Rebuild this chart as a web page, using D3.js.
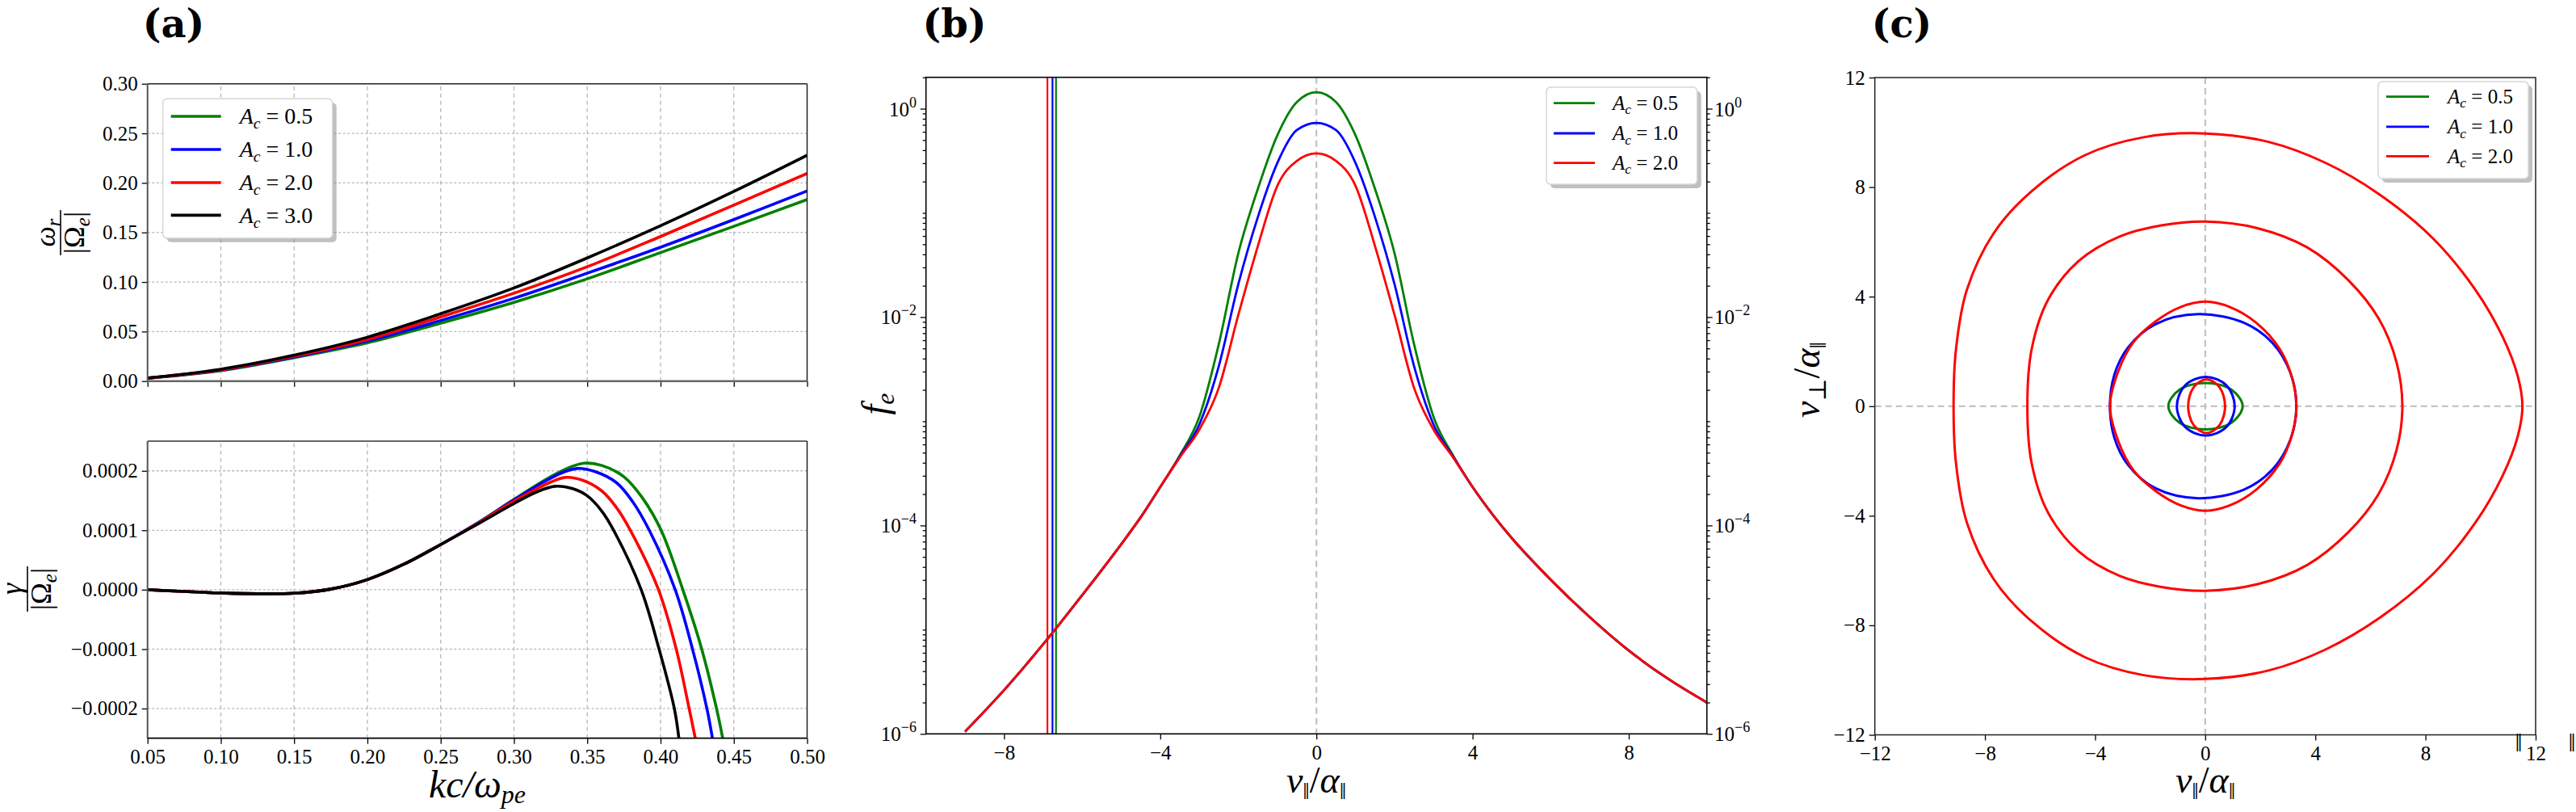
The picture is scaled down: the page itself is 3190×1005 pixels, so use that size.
<!DOCTYPE html>
<html>
<head>
<meta charset="utf-8">
<script src="https://cdn.jsdelivr.net/npm/d3@7"></script>
<style>
body { margin: 0; background: #fff; }
svg text { font-family: "Liberation Serif", "DejaVu Serif", serif; fill: #000; }
</style>
</head>
<body>
<svg id="fig" width="3190" height="1005"></svg>
<script>
// ---------- data: panel (a) top, omega_r / |Omega_e| ----------
var kGrid = [0.05, 0.10, 0.15, 0.20, 0.25, 0.30, 0.35, 0.40, 0.45, 0.50];
var wrA05 = [0.0028, 0.0106, 0.0236, 0.0386, 0.0585, 0.0795, 0.1032, 0.1297, 0.1562, 0.1832];
var wrA10 = [0.0029, 0.0110, 0.0244, 0.0405, 0.0612, 0.0836, 0.1089, 0.1351, 0.1630, 0.1919];
var wrA20 = [0.0030, 0.0114, 0.0252, 0.0420, 0.0648, 0.0887, 0.1154, 0.1459, 0.1776, 0.2095];
var wrA30 = [0.0031, 0.0120, 0.0262, 0.0443, 0.0680, 0.0940, 0.1243, 0.1568, 0.1914, 0.2279];

// ---------- data: panel (a) bottom, gamma / |Omega_e| ----------
var kGamA05 = [0.05, 0.075, 0.10, 0.125, 0.15, 0.175, 0.20, 0.225, 0.25, 0.275, 0.30, 0.325, 0.338, 0.348, 0.36, 0.375, 0.3875, 0.4004, 0.4152, 0.4281, 0.4382, 0.4424];
var gamA05  = [0, -3.0e-6, -5.5e-6, -6.8e-6, -6.0e-6, 1.0e-6, 1.7e-5, 4.3e-5, 7.6e-5, 1.12e-4, 1.52e-4, 1.90e-4, 2.06e-4, 2.13e-4, 2.09e-4, 1.90e-4, 1.55e-4, 1.0e-4, 0, -1.0e-4, -2.0e-4, -2.5e-4];
var kGamA10 = [0.05, 0.075, 0.10, 0.125, 0.15, 0.175, 0.20, 0.225, 0.25, 0.275, 0.30, 0.32, 0.333, 0.343, 0.355, 0.37, 0.381, 0.3923, 0.41, 0.4218, 0.4316, 0.4354];
var gamA10  = [0, -3.0e-6, -5.5e-6, -6.8e-6, -6.0e-6, 1.0e-6, 1.7e-5, 4.3e-5, 7.6e-5, 1.12e-4, 1.51e-4, 1.81e-4, 1.97e-4, 2.04e-4, 1.99e-4, 1.80e-4, 1.48e-4, 1.0e-4, 0, -1.0e-4, -2.0e-4, -2.5e-4];
var kGamA20 = [0.05, 0.075, 0.10, 0.125, 0.15, 0.175, 0.20, 0.225, 0.25, 0.275, 0.30, 0.315, 0.325, 0.335, 0.347, 0.36, 0.37, 0.3794, 0.3986, 0.4107, 0.4195, 0.4237];
var gamA20  = [0, -3.0e-6, -5.5e-6, -6.8e-6, -6.0e-6, 1.0e-6, 1.7e-5, 4.3e-5, 7.6e-5, 1.11e-4, 1.49e-4, 1.69e-4, 1.81e-4, 1.89e-4, 1.84e-4, 1.66e-4, 1.38e-4, 1.0e-4, 0, -1.0e-4, -2.0e-4, -2.5e-4];
var kGamA30 = [0.05, 0.075, 0.10, 0.125, 0.15, 0.175, 0.20, 0.225, 0.25, 0.275, 0.30, 0.315, 0.328, 0.34, 0.35, 0.36, 0.368, 0.3868, 0.399, 0.4094, 0.4125];
var gamA30  = [0, -3.0e-6, -5.5e-6, -6.8e-6, -6.0e-6, 1.0e-6, 1.7e-5, 4.3e-5, 7.6e-5, 1.10e-4, 1.45e-4, 1.64e-4, 1.74e-4, 1.70e-4, 1.58e-4, 1.32e-4, 1.0e-4, 0, -1.0e-4, -2.0e-4, -2.5e-4];

// ---------- data: panel (b), f_e vs v_par ----------
var vGrid = [-9, -8, -7, -6, -5, -4.5, -4, -3.5, -3, -2.5, -2, -1.5, -1, -0.5, 0, 0.5, 1, 1.5, 2, 2.5, 3, 3.5, 4, 4.5, 5, 6, 7, 8, 9, 10];
var fA05 = [1.05e-6, 2.63e-6, 7.24e-6, 2.14e-5, 6.6e-5, 1.20e-4, 2.34e-4, 4.7e-4, 1.1e-3, 5.5e-3, 4.11e-2, 0.170, 0.556, 1.16, 1.44, 1.16, 0.556, 0.170, 4.11e-2, 5.5e-3, 1.1e-3, 4.7e-4, 2.34e-4, 1.29e-4, 7.6e-5, 3.02e-5, 1.32e-5, 6.3e-6, 3.39e-6, 2.0e-6];
var fA10 = [1.05e-6, 2.63e-6, 7.24e-6, 2.14e-5, 6.6e-5, 1.20e-4, 2.34e-4, 4.6e-4, 9.3e-4, 3.39e-3, 2.07e-2, 9.12e-2, 0.302, 0.624, 0.731, 0.624, 0.302, 9.12e-2, 2.07e-2, 3.39e-3, 9.3e-4, 4.6e-4, 2.34e-4, 1.29e-4, 7.6e-5, 3.02e-5, 1.32e-5, 6.3e-6, 3.39e-6, 2.0e-6];
var fA20 = [1.05e-6, 2.63e-6, 7.24e-6, 2.14e-5, 6.6e-5, 1.20e-4, 2.34e-4, 4.5e-4, 8.3e-4, 2.1e-3, 1.05e-2, 4.8e-2, 0.182, 0.316, 0.372, 0.316, 0.182, 4.8e-2, 1.05e-2, 2.1e-3, 8.3e-4, 4.5e-4, 2.34e-4, 1.29e-4, 7.6e-5, 3.02e-5, 1.32e-5, 6.3e-6, 3.39e-6, 2.0e-6];
var vCut = [-6.67, -6.76, -6.89];   // green, blue, red vertical lines

// ---------- data: panel (c), contours (v_par, v_perp) ----------
var ringOuter = [[11.52,0],[11.35,1.1],[10.8,2.54],[9.82,4.24],[8.27,6.13],[6.32,7.74],[4.38,8.88],[2.3,9.65],[0,9.96],[-2.24,9.82],[-4.38,9.16],[-6.32,7.84],[-7.68,6.32],[-8.66,4.24],[-9.05,2.1],[-9.14,0],
  [-9.05,-2.1],[-8.66,-4.24],[-7.68,-6.32],[-6.32,-7.84],[-4.38,-9.16],[-2.24,-9.82],[0,-9.96],[2.3,-9.65],[4.38,-8.88],[6.32,-7.74],[8.27,-6.13],[9.82,-4.24],[10.8,-2.54],[11.35,-1.1]];
var ringSecond = [[7.16,0],[6.95,1.6],[6.3,3.2],[5.2,4.6],[3.7,5.8],[1.9,6.5],[0,6.74],[-1.6,6.6],[-3.1,6.2],[-4.6,5.3],[-5.7,3.9],[-6.3,2.1],[-6.46,0],
  [-6.3,-2.1],[-5.7,-3.9],[-4.6,-5.3],[-3.1,-6.2],[-1.6,-6.6],[0,-6.74],[1.9,-6.5],[3.7,-5.8],[5.2,-4.6],[6.3,-3.2],[6.95,-1.6]];
var ringThirdRed = [[3.31,0],[3.15,1.05],[2.7,2.1],[1.85,3.05],[0.9,3.62],[0,3.82],[-0.9,3.62],[-1.8,3.1],[-2.6,2.35],[-3.15,1.3],[-3.46,0],
  [-3.15,-1.3],[-2.6,-2.35],[-1.8,-3.1],[-0.9,-3.62],[0,-3.82],[0.9,-3.62],[1.85,-3.05],[2.7,-2.1],[3.15,-1.05]];
var ringThirdBlue = [[3.31,0],[3.1,1.2],[2.45,2.3],[1.4,3.05],[-0.25,3.36],[-1.8,3.0],[-2.8,2.15],[-3.3,1.15],[-3.46,0],
  [-3.3,-1.15],[-2.8,-2.15],[-1.8,-3.0],[-0.25,-3.36],[1.4,-3.05],[2.45,-2.3],[3.1,-1.2]];
var coreGreen = [[1.36,0],[0.96,0.6],[0.01,0.85],[-0.94,0.6],[-1.34,0],[-0.94,-0.6],[0.01,-0.85],[0.96,-0.6]];
var coreBlue = [[1.07,0],[0.77,0.76],[0.02,1.07],[-0.73,0.76],[-1.03,0],[-0.73,-0.76],[0.02,-1.07],[0.77,-0.76]];
var coreRed = [[0.72,0],[0.52,0.69],[0.05,0.98],[-0.42,0.69],[-0.62,0],[-0.42,-0.69],[0.05,-0.98],[0.52,-0.69]];

var labelsA = ["0.5", "1.0", "2.0", "3.0"];
var colors = ["#008000", "#0000ff", "#ff0000", "#000000"];

// ---------- layout ----------
var svg = d3.select("#fig");
var FS = 25;

var xa = d3.scaleLinear().domain([0.05, 0.5]).range([182.7, 999.5]);
var ya1 = d3.scaleLinear().domain([0, 0.3]).range([471.7, 103.7]);
var ya2 = d3.scaleLinear().domain([-0.00025, 0.00025]).range([913.7, 546]);
var xb = d3.scaleLinear().domain([-10, 10]).range([1146.7, 2113.7]);
var yb = d3.scaleLog().domain([1e-6, 2]).range([908.3, 95.7]);
var xc = d3.scaleLinear().domain([-12, 12]).range([2321.7, 3140]);
var yc = d3.scaleLinear().domain([-12, 12]).range([909.5, 96]);

var defs = svg.append("defs");
function clipFor(id, x, y) {
  defs.append("clipPath").attr("id", id).append("rect")
    .attr("x", x.range()[0]).attr("y", y.range()[1])
    .attr("width", x.range()[1] - x.range()[0]).attr("height", y.range()[0] - y.range()[1]);
}
clipFor("ca1", xa, ya1); clipFor("ca2", xa, ya2); clipFor("cb", xb, yb); clipFor("cc", xc, yc);

function styleAxis(g) {
  g.select(".domain").remove();
  g.attr("font-size", FS).attr("font-family", null);
  g.selectAll(".tick line").attr("stroke", "#000").attr("stroke-width", 1.3);
}

function grid(x, y, xt, yt) {
  var g = svg.append("g");
  g.selectAll(".gx").data(xt).enter().append("line")
    .attr("x1", function(d) { return x(d); }).attr("x2", function(d) { return x(d); })
    .attr("y1", y.range()[0]).attr("y2", y.range()[1])
    .attr("stroke", "#b8b8b8").attr("stroke-width", 1.3).attr("stroke-dasharray", "5,4");
  g.selectAll(".gy").data(yt).enter().append("line")
    .attr("y1", function(d) { return y(d); }).attr("y2", function(d) { return y(d); })
    .attr("x1", x.range()[0]).attr("x2", x.range()[1])
    .attr("stroke", "#b8b8b8").attr("stroke-width", 1.3).attr("stroke-dasharray", "3,2.5");
}

function spine(x1, y1, x2, y2, col, w) {
  svg.append("line").attr("x1", x1).attr("y1", y1).attr("x2", x2).attr("y2", y2)
    .attr("stroke", col).attr("stroke-width", w);
}

function legendText(sel, x, y, fs, val) {
  var t = sel.append("text").attr("x", x).attr("y", y).attr("font-size", fs);
  t.append("tspan").attr("font-style", "italic").text("A");
  t.append("tspan").attr("font-style", "italic").attr("font-size", fs * 0.7).attr("dy", fs * 0.22).text("c");
  t.append("tspan").attr("dy", -fs * 0.22).text(" = " + val);
}

function legend(box, rows, line, textX, fs, n, lw) {
  var g = svg.append("g");
  g.append("rect").attr("x", box[0] + 5).attr("y", box[1] + 5).attr("width", box[2] - box[0]).attr("height", box[3] - box[1])
    .attr("rx", 5).attr("fill", "#8c8c8c").attr("opacity", 0.55);
  g.append("rect").attr("x", box[0]).attr("y", box[1]).attr("width", box[2] - box[0]).attr("height", box[3] - box[1])
    .attr("rx", 5).attr("fill", "#fff").attr("stroke", "#d6d6d6").attr("stroke-width", 1.5);
  for (var i = 0; i < n; i++) {
    g.append("line").attr("x1", line[0]).attr("x2", line[1]).attr("y1", rows[i]).attr("y2", rows[i])
      .attr("stroke", colors[i]).attr("stroke-width", lw);
    legendText(g, textX, rows[i] + fs * 0.33, fs, labelsA[i]);
  }
}

function pairs(xs, ys) { return xs.map(function(d, i) { return [d, ys[i]]; }); }

// ================= panel (a) top =================
grid(xa, ya1, [0.10, 0.15, 0.20, 0.25, 0.30, 0.35, 0.40, 0.45], [0.05, 0.10, 0.15, 0.20, 0.25]);
var lineA1 = d3.line().x(function(d) { return xa(d[0]); }).y(function(d) { return ya1(d[1]); }).curve(d3.curveCatmullRom.alpha(0.5));
var gA1 = svg.append("g").attr("clip-path", "url(#ca1)");
[wrA05, wrA10, wrA20, wrA30].forEach(function(s, i) {
  gA1.append("path").attr("d", lineA1(pairs(kGrid, s))).attr("fill", "none").attr("stroke", colors[i]).attr("stroke-width", 3.6);
});
svg.append("g").attr("transform", "translate(182.7,0)")
  .call(d3.axisLeft(ya1).tickValues([0, 0.05, 0.10, 0.15, 0.20, 0.25, 0.30]).tickSize(7).tickPadding(5).tickFormat(d3.format(".2f")))
  .call(styleAxis);
svg.append("g").attr("transform", "translate(0,471.7)")
  .call(d3.axisBottom(xa).tickValues(d3.range(0.05, 0.501, 0.05)).tickSize(7).tickFormat(""))
  .call(styleAxis);
spine(182.7, 103.7, 999.5, 103.7, "#222", 1.5);
spine(999.5, 103.7, 999.5, 471.7, "#222", 1.5);
spine(182.7, 103.7, 182.7, 471.7, "#555", 2);
spine(182.7, 471.7, 999.5, 471.7, "#666", 2.6);
legend([201.7, 122.3, 411.7, 294.7], [144, 185, 226, 266.4], [211.7, 273.7], 296.7, 28, 4, 3.6);

// y label: omega_r / |Omega_e|
(function() {
  var g = svg.append("g").attr("transform", "translate(75,288) rotate(-90)");
  var t = g.append("text").attr("text-anchor", "middle").attr("y", -7).attr("font-size", 36).attr("font-style", "italic");
  t.append("tspan").text("\u03c9");
  t.append("tspan").attr("font-size", 25).attr("dy", 7).text("r");
  g.append("line").attr("x1", -28).attr("x2", 28).attr("y1", 0).attr("y2", 0).attr("stroke", "#000").attr("stroke-width", 1.6);
  var b = g.append("text").attr("text-anchor", "middle").attr("y", 29).attr("font-size", 36);
  b.append("tspan").text("|\u03a9");
  b.append("tspan").attr("font-size", 25).attr("font-style", "italic").attr("dy", 7).text("e");
  b.append("tspan").attr("dy", -7).text("|");
})();

// ================= panel (a) bottom =================
grid(xa, ya2, [0.10, 0.15, 0.20, 0.25, 0.30, 0.35, 0.40, 0.45], [-0.0002, -0.0001, 0, 0.0001, 0.0002]);
var lineA2 = d3.line().x(function(d) { return xa(d[0]); }).y(function(d) { return ya2(d[1]); }).curve(d3.curveCatmullRom.alpha(0.5));
var gA2 = svg.append("g").attr("clip-path", "url(#ca2)");
[[kGamA05, gamA05], [kGamA10, gamA10], [kGamA20, gamA20], [kGamA30, gamA30]].forEach(function(s, i) {
  gA2.append("path").attr("d", lineA2(pairs(s[0], s[1]))).attr("fill", "none").attr("stroke", colors[i]).attr("stroke-width", 3.6);
});
svg.append("g").attr("transform", "translate(182.7,0)")
  .call(d3.axisLeft(ya2).tickValues([-0.0002, -0.0001, 0, 0.0001, 0.0002]).tickSize(7).tickPadding(5).tickFormat(d3.format(".4f")))
  .call(styleAxis);
svg.append("g").attr("transform", "translate(0,913.7)")
  .call(d3.axisBottom(xa).tickValues(d3.range(0.05, 0.501, 0.05)).tickSize(7).tickPadding(7).tickFormat(d3.format(".2f")))
  .call(styleAxis);
spine(182.7, 546, 999.5, 546, "#666", 2.2);
spine(182.7, 546, 182.7, 913.7, "#555", 2);
spine(999.5, 546, 999.5, 913.7, "#222", 1.5);
spine(182.7, 913.7, 999.5, 913.7, "#000", 1.8);

(function() {
  var g = svg.append("g").attr("transform", "translate(34,729) rotate(-90)");
  g.append("text").attr("text-anchor", "middle").attr("y", -8).attr("font-size", 36).attr("font-style", "italic").text("\u03b3");
  g.append("line").attr("x1", -28).attr("x2", 28).attr("y1", 0).attr("y2", 0).attr("stroke", "#000").attr("stroke-width", 1.6);
  var b = g.append("text").attr("text-anchor", "middle").attr("y", 29).attr("font-size", 36);
  b.append("tspan").text("|\u03a9");
  b.append("tspan").attr("font-size", 25).attr("font-style", "italic").attr("dy", 7).text("e");
  b.append("tspan").attr("dy", -7).text("|");
})();

(function() {
  var t = svg.append("text").attr("x", 591).attr("y", 987).attr("text-anchor", "middle").attr("font-size", 48).attr("font-style", "italic");
  t.append("tspan").text("kc/\u03c9");
  t.append("tspan").attr("font-size", 32).attr("dy", 7).text("pe");
})();

// ================= panel (b) =================
var majorB = [1e-6, 1e-4, 1e-2, 1];
var majorExpB = [-6, -4, -2, 0];
var minorB = [];
for (var e = -6; e <= 0; e++) {
  for (var m = 1; m <= 9; m++) {
    var mv = m * Math.pow(10, e);
    if (mv <= 2.0001 && !(m === 1 && e % 2 === 0)) minorB.push(mv);
  }
}
svg.append("line").attr("x1", xb(0)).attr("x2", xb(0)).attr("y1", 95.7).attr("y2", 908.3)
  .attr("stroke", "#bdbdbd").attr("stroke-width", 2).attr("stroke-dasharray", "8,5");
var lineB = d3.line().x(function(d) { return xb(d[0]); }).y(function(d) { return yb(d[1]); }).curve(d3.curveMonotoneX);
var gB = svg.append("g").attr("clip-path", "url(#cb)");
vCut.forEach(function(v, i) {
  gB.append("line").attr("x1", xb(v)).attr("x2", xb(v)).attr("y1", 95.7).attr("y2", 908.3)
    .attr("stroke", colors[i]).attr("stroke-width", 2.2);
});
[fA05, fA10, fA20].forEach(function(s, i) {
  gB.append("path").attr("d", lineB(pairs(vGrid, s))).attr("fill", "none").attr("stroke", colors[i]).attr("stroke-width", 2.8);
});
svg.append("g").attr("transform", "translate(0,908.3)")
  .call(d3.axisBottom(xb).tickValues([-8, -4, 0, 4, 8]).tickSize(7).tickPadding(7))
  .call(styleAxis);
svg.append("g").attr("transform", "translate(1146.7,0)").call(d3.axisLeft(yb).tickValues(majorB).tickSize(7).tickFormat("")).call(styleAxis);
svg.append("g").attr("transform", "translate(1146.7,0)").call(d3.axisLeft(yb).tickValues(minorB).tickSize(4).tickFormat("")).call(styleAxis);
svg.append("g").attr("transform", "translate(2113.7,0)").call(d3.axisRight(yb).tickValues(majorB).tickSize(7).tickFormat("")).call(styleAxis);
svg.append("g").attr("transform", "translate(2113.7,0)").call(d3.axisRight(yb).tickValues(minorB).tickSize(4).tickFormat("")).call(styleAxis);
majorB.forEach(function(v, i) {
  [[1135, "end"], [2123, "start"]].forEach(function(p) {
    var t = svg.append("text").attr("x", p[0]).attr("y", yb(v) + 9).attr("text-anchor", p[1]).attr("font-size", FS);
    t.append("tspan").text("10");
    t.append("tspan").attr("font-size", 18).attr("dy", -11).text(majorExpB[i] < 0 ? "\u2212" + (-majorExpB[i]) : "0");
  });
});
svg.append("rect").attr("x", 1146.7).attr("y", 95.7).attr("width", 967).attr("height", 812.6)
  .attr("fill", "none").attr("stroke", "#000").attr("stroke-width", 1.6);
legend([1915, 108, 2101.7, 228], [127.7, 165, 201.7], [1924, 1975], 1997, 25, 3, 2.8);

(function() {
  var t = svg.append("text").attr("transform", "translate(1099,500) rotate(-90)").attr("text-anchor", "middle").attr("font-size", 46).attr("font-style", "italic");
  t.append("tspan").text("f");
  t.append("tspan").attr("font-size", 32).attr("dy", 8).text("e");
})();

function vOverAlpha(sel, x, y, perp) {
  var t = sel.append("text").attr("x", x).attr("y", y).attr("text-anchor", "middle").attr("font-size", 46).attr("font-style", "italic");
  t.append("tspan").text("v");
  t.append("tspan").attr("font-size", 30).attr("font-style", "normal").attr("dy", 8).text(perp ? "\u22a5" : "\u2016");
  t.append("tspan").attr("dy", -8).attr("font-style", "normal").text("/");
  t.append("tspan").text("\u03b1");
  t.append("tspan").attr("font-size", 30).attr("font-style", "normal").attr("dy", 8).text("\u2016");
  return t;
}
vOverAlpha(svg, 1630, 981, false);

// ================= panel (c) =================
svg.append("line").attr("x1", xc(0)).attr("x2", xc(0)).attr("y1", 96).attr("y2", 909.5)
  .attr("stroke", "#bdbdbd").attr("stroke-width", 2).attr("stroke-dasharray", "8,5");
svg.append("line").attr("y1", yc(0)).attr("y2", yc(0)).attr("x1", 2321.7).attr("x2", 3140)
  .attr("stroke", "#bdbdbd").attr("stroke-width", 2).attr("stroke-dasharray", "8,5");
var lineC = d3.line().x(function(d) { return xc(d[0]); }).y(function(d) { return yc(d[1]); }).curve(d3.curveCatmullRomClosed.alpha(0.5));
var gC = svg.append("g").attr("clip-path", "url(#cc)");
[[coreGreen, 0], [ringThirdBlue, 1], [coreBlue, 1], [ringOuter, 2], [ringSecond, 2], [ringThirdRed, 2], [coreRed, 2]].forEach(function(r) {
  gC.append("path").attr("d", lineC(r[0])).attr("fill", "none").attr("stroke", colors[r[1]]).attr("stroke-width", 3);
});
svg.append("g").attr("transform", "translate(0,909.5)")
  .call(d3.axisBottom(xc).tickValues([-12, -8, -4, 0, 4, 8, 12]).tickSize(7).tickPadding(7))
  .call(styleAxis);
svg.append("g").attr("transform", "translate(2321.7,0)")
  .call(d3.axisLeft(yc).tickValues([-12, -8, -4, 0, 4, 8, 12]).tickSize(7).tickPadding(5))
  .call(styleAxis);
svg.append("rect").attr("x", 2321.7).attr("y", 96).attr("width", 818.3).attr("height", 813.5)
  .attr("fill", "none").attr("stroke", "#222").attr("stroke-width", 1.5);
legend([2945, 101, 3131, 221], [119.7, 156.9, 193.4], [2955, 3008], 3031, 25, 3, 2.8);

vOverAlpha(svg, 2731, 981, false);
vOverAlpha(svg.append("g").attr("transform", "translate(2253,470) rotate(-90)"), 0, 0, true);

[3119, 3185].forEach(function(x) {
  svg.append("text").attr("x", x).attr("y", 930).attr("text-anchor", "middle").attr("font-size", 32).text("\u2016");
});

// ================= panel letters =================
[["(a)", 215], ["(b)", 1182], ["(c)", 2355]].forEach(function(p) {
  svg.append("text").attr("x", p[1]).attr("y", 46).attr("text-anchor", "middle")
    .attr("font-size", 48).attr("font-weight", "bold").style("font-family", '"DejaVu Serif", serif').text(p[0]);
});
</script>
</body>
</html>
